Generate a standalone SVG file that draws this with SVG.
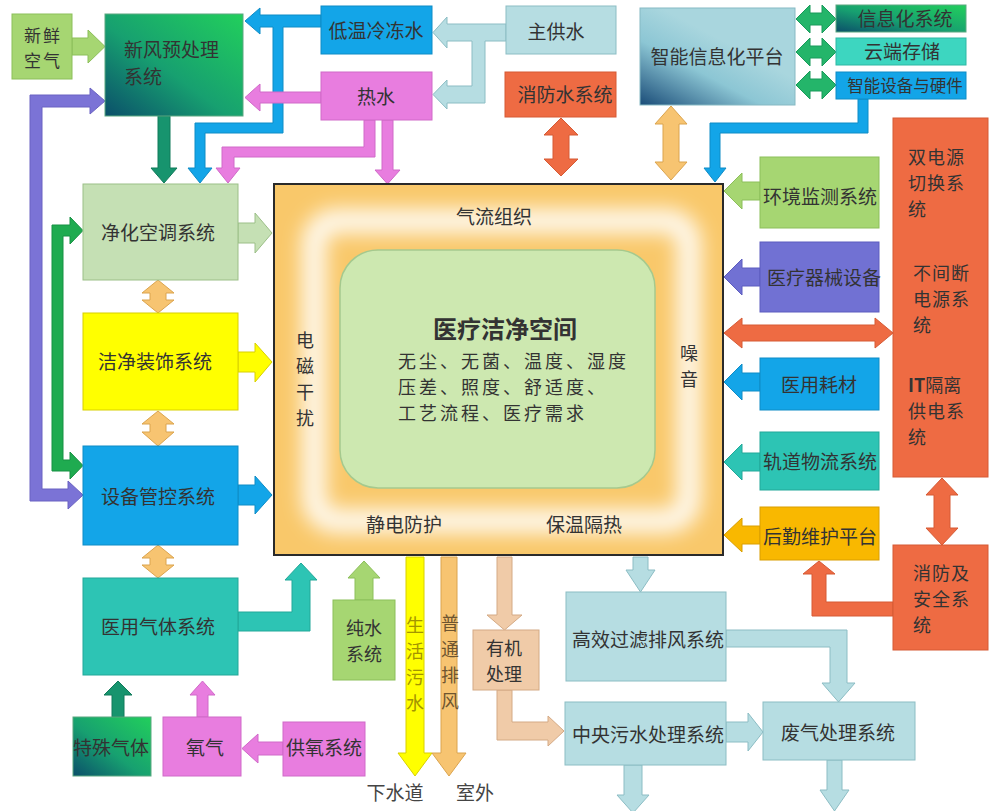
<svg xmlns="http://www.w3.org/2000/svg" width="989" height="811" viewBox="0 0 989 811">
<style>
text{font-family:"Noto Sans CJK SC","Noto Sans",sans-serif;fill:#333;font-size:19px}
.c{text-anchor:middle}
.s{font-size:18px}
.lg{fill:#a6d672;stroke:#8cbf5a}
.pu{fill:#7b73d6;stroke:#6a62c2}
.gr{fill:#1fab50;stroke:#179142}
.dg{fill:#17946e;stroke:#117a5a}
.bl{fill:#13a5e8;stroke:#0f8cc6}
.pk{fill:#e87ddf;stroke:#d06ac8}
.cy{fill:#b6dde2;stroke:#8cbdc4}
.or{fill:#ee6b43;stroke:#d65a35}
.lo{fill:#f7c471;stroke:#dba44e}
.ig{fill:#24b56a;stroke:#189a5a}
.ac{fill:#c5e0b4;stroke:#9cbf88}
.ye{fill:#ffff00;stroke:#d8d000}
.vi{fill:#7171d3;stroke:#5c5cbf}
.te{fill:#2dc4b4;stroke:#22a899}
.am{fill:#f9b800;stroke:#d99e00}
.tn{fill:#f0cba8;stroke:#d4aa85}
</style>
<defs>
<linearGradient id="gg" x1="1" y1="0" x2="0" y2="1">
<stop offset="0" stop-color="#22cf5c"/><stop offset="0.55" stop-color="#17a070"/><stop offset="1" stop-color="#0b4f6a"/>
</linearGradient>
<linearGradient id="gi" x1="0" y1="1" x2="0.55" y2="0.35">
<stop offset="0" stop-color="#1a4c78"/><stop offset="0.6" stop-color="#8cc6d4"/><stop offset="1" stop-color="#a9d6de"/>
</linearGradient>
<filter id="blur" x="-20%" y="-20%" width="140%" height="140%"><feGaussianBlur stdDeviation="10"/></filter>
</defs>
<rect width="989" height="811" fill="#ffffff"/>

<g id="connectors">
<polygon class="lg" points="72,38 88,38 88,30 105,46.5 88,63 88,55 72,55"/>
<polygon class="pu" points="30,501 30,95 90,95 90,88 105,101 90,114 90,107 42,107 42,489 68,489 68,481 83,495 68,509 68,501"/>
<polygon class="gr" points="52,471 52,225 70,225 70,217 83,230.5 70,244 70,236 63,236 63,460 70,460 70,452 83,465.5 70,479 70,471"/>
<polygon class="dg" points="158,116 170,116 170,168 177,168 164,183 151,168 158,168"/>
<polygon class="bl" points="321,15 260,15 260,8 245,21 260,34 260,27 273,27 273,123 195,123 195,168 188,168 200,183 212,168 205,168 205,133 283,133 283,27 321,27"/>
<polygon class="pk" points="321,92 260,92 260,84 245,97.5 260,111 260,103 321,103"/>
<polygon class="pk" points="375,120 375,157 234,157 234,168 240,168 228,183 216,168 222,168 222,147 364,147 364,120"/>
<polygon class="pk" points="382,120 393,120 393,170 400,170 387.5,184 375,170 382,170"/>
<polygon class="cy" points="506,24 447,24 447,17 433,32.5 447,48 447,41 472,41 472,86 447,86 447,80 433,94.5 447,109 447,103 485,103 485,41 506,41"/>
<polygon class="or" points="561,118 578,135 569,135 569,159 578,159 561,176 544,159 553,159 553,135 544,135"/>
<polygon class="lo" points="671,106 687,124 679,124 679,162 687,162 671,180 655,162 663,162 663,124 655,124"/>
<polygon class="ig" points="796,19 810,5 810,13 822,13 822,5 836,19 822,33 822,25 810,25 810,33"/>
<polygon class="ig" points="796,52 810,38 810,46 822,46 822,38 836,52 822,66 822,58 810,58 810,66"/>
<polygon class="ig" points="796,85 810,71 810,79 822,79 822,71 836,85 822,99 822,91 810,91 810,99"/>
<polygon class="bl" points="858,99 868,99 868,133 720,133 720,168 726,168 715,182 704,168 710,168 710,123 858,123"/>
<polygon class="ac" points="238,223 255,223 255,213 272,233 255,253 255,243 238,243"/>
<polygon class="ye" points="238,352 255,352 255,343 272,362 255,382 255,372 238,372"/>
<polygon class="bl" points="238,485 255,485 255,476 272,495 255,514 255,505 238,505"/>
<polygon class="lo" points="158,280 174,293 166,293 166,300 174,300 158,313 142,300 150,300 150,293 142,293"/>
<polygon class="lo" points="158,411 174,424 166,424 166,432 174,432 158,446 142,432 150,432 150,424 142,424"/>
<polygon class="lo" points="158,545 174,558 166,558 166,565 174,565 158,578 142,565 150,565 150,558 142,558"/>
<polygon class="lg" points="760,182 742,182 742,173 724,191 742,209 742,200 760,200"/>
<polygon class="vi" points="760,268 742,268 742,259 724,277 742,295 742,286 760,286"/>
<polygon class="or" points="724,333 742,318 742,325 875,325 875,318 893,333 875,348 875,341 742,341 742,348"/>
<polygon class="bl" points="760,373 742,373 742,364 724,382 742,400 742,391 760,391"/>
<polygon class="te" points="760,453 742,453 742,444 724,462 742,480 742,471 760,471"/>
<polygon class="am" points="760,526 742,526 742,518 724,535 742,552 742,544 760,544"/>
<polygon class="or" points="942,478 958,495 950,495 950,528 958,528 942,545 926,528 934,528 934,495 926,495"/>
<polygon class="or" points="893,602 893,616 812,616 812,574 803,574 819,561 835,574 826,574 826,602"/>
<polygon class="te" points="238,612 292,612 292,580 285,580 301,563 317,580 310,580 310,631 238,631"/>
<polygon class="lg" points="355,600 355,578 348,578 364,561 380,578 373,578 373,600"/>
<polygon class="ye" points="406,557 424,557 424,753 432,753 415,776 398,753 406,753"/>
<polygon class="lo" points="441,557 457,557 457,753 466,753 449,776 432,753 441,753"/>
<polygon class="tn" points="497,557 512,557 512,615 522,615 504.5,630 487,615 497,615"/>
<polygon class="tn" points="497,690 512,690 512,722 548,722 548,716 564,731 548,746 548,740 497,740"/>
<polygon class="cy" points="633,557 648,557 648,570 655,570 640.5,592 626,570 633,570"/>
<polygon class="cy" points="726,630 847,630 847,683 855,683 838.5,702 822,683 830,683 830,647 726,647"/>
<polygon class="cy" points="726,722 748,722 748,713 763,732 748,751 748,742 726,742"/>
<polygon class="cy" points="624,765 642,765 642,795 649,795 633,813 617,795 624,795"/>
<polygon class="cy" points="827,760 842,760 842,790 849,790 834.5,811 820,790 827,790"/>
<polygon class="dg" points="112,717 112,695 104,695 118,681 132,695 124,695 124,717"/>
<polygon class="pk" points="197,717 197,695 190,695 202.5,681 215,695 208,695 208,717"/>
<polygon class="pk" points="283,742 258,742 258,734 242,748.5 258,763 258,755 283,755"/>
</g>

<g id="center">
<rect x="274" y="184" width="449" height="371" fill="#f9c86a" stroke="#2a2a2a" stroke-width="2"/>
<rect x="314" y="221" width="375" height="300" rx="22" fill="none" stroke="#ffffff" stroke-opacity="0.9" stroke-width="24" filter="url(#blur)"/>
<rect x="340" y="250" width="315" height="238" rx="38" fill="#cde8b0" stroke="#a5c98e" stroke-width="1.5"/>
<text class="c" x="494" y="224">气流组织</text>
<text class="c s" x="305" y="347">电</text><text class="c s" x="305" y="373">磁</text><text class="c s" x="305" y="399">干</text><text class="c s" x="305" y="425">扰</text>
<text class="c s" x="689" y="360">噪</text><text class="c s" x="689" y="386">音</text>
<text class="c" x="404" y="532">静电防护</text>
<text class="c" x="584" y="532">保温隔热</text>
<text class="c" x="505" y="338" style="font-size:24px;font-weight:bold">医疗洁净空间</text>
<text x="398" y="368" style="font-size:18px;letter-spacing:3px">无尘、无菌、温度、湿度</text>
<text x="398" y="394" style="font-size:18px;letter-spacing:3px">压差、照度、舒适度、</text>
<text x="398" y="420" style="font-size:18px;letter-spacing:3px">工艺流程、医疗需求</text>
</g>

<g id="xinxian"><rect x="12" y="14" width="60" height="65" class="lg"/><text x="24" y="42" style="font-size:17px;letter-spacing:2px">新鲜</text><text x="24" y="67" style="font-size:17px;letter-spacing:2px">空气</text></g>
<g id="xinfeng"><rect x="105" y="14" width="138" height="102" fill="url(#gg)" stroke="#5aa880"/><text x="124" y="57">新风预处理</text><text x="124" y="84">系统</text></g>
<g id="diwen"><rect x="321" y="6" width="111" height="48" class="bl"/><text class="c" x="376" y="38">低温冷冻水</text></g>
<g id="reshui"><rect x="321" y="72" width="111" height="48" class="pk"/><text class="c" x="376" y="104">热水</text></g>
<g id="zhugongshui"><rect x="506" y="6" width="110" height="48" class="cy"/><text class="c" x="556" y="39">主供水</text></g>
<g id="xiaofangshui"><rect x="505" y="72" width="111" height="45" class="or"/><text class="c" x="565" y="102">消防水系统</text></g>
<g id="zhineng"><rect x="640" y="8" width="155" height="97" fill="url(#gi)" stroke="#86b9c3"/><text class="c" x="717" y="64">智能信息化平台</text></g>
<g id="xinxihua"><rect x="836" y="5" width="130" height="27" fill="url(#gg)" stroke="#5aa880"/><text class="c" x="905" y="26">信息化系统</text></g>
<g id="yunduan"><rect x="836" y="38" width="130" height="27" fill="#3dd6c0" stroke="#2fb8a4"/><text class="c" x="902" y="59">云端存储</text></g>
<g id="shebei"><rect x="836" y="72" width="130" height="27" class="bl"/><text class="c" x="905" y="92" style="font-size:16.5px">智能设备与硬件</text></g>
<g id="jinghua"><rect x="83" y="184" width="155" height="96" class="ac"/><text class="c" x="158" y="240">净化空调系统</text></g>
<g id="zhuangshi"><rect x="83" y="313" width="155" height="97" class="ye"/><text class="c" x="155" y="369">洁净装饰系统</text></g>
<g id="guankong"><rect x="83" y="446" width="155" height="99" class="bl"/><text class="c" x="158" y="504">设备管控系统</text></g>
<g id="yiyongqiti"><rect x="83" y="578" width="155" height="97" class="te"/><text class="c" x="158" y="634">医用气体系统</text></g>
<g id="teshu"><rect x="73" y="717" width="78" height="59" fill="url(#gg)" stroke="#5aa880"/><text class="c" x="111" y="755">特殊气体</text></g>
<g id="yangqi"><rect x="163" y="717" width="78" height="59" class="pk"/><text class="c" x="205" y="755">氧气</text></g>
<g id="gongyang"><rect x="283" y="722" width="82" height="54" class="pk"/><text class="c" x="324" y="755">供氧系统</text></g>
<g id="chunshui"><rect x="333" y="600" width="62" height="80" class="lg"/><text class="c s" x="364" y="635">纯水</text><text class="c s" x="364" y="661">系统</text></g>
<g id="shenghuo"><text class="c s" x="415" y="632" style="fill:#a39400">生</text><text class="c s" x="415" y="658" style="fill:#a39400">活</text><text class="c s" x="415" y="684" style="fill:#a39400">污</text><text class="c s" x="415" y="710" style="fill:#a39400">水</text><text class="c" x="395" y="800" style="fill:#444">下水道</text></g>
<g id="putong"><text class="c s" x="450" y="630" style="fill:#6e5530">普</text><text class="c s" x="450" y="656" style="fill:#6e5530">通</text><text class="c s" x="450" y="682" style="fill:#6e5530">排</text><text class="c s" x="450" y="708" style="fill:#6e5530">风</text><text class="c" x="475" y="800" style="fill:#444">室外</text></g>
<g id="youji"><rect x="473" y="630" width="66" height="60" class="tn"/><text class="c s" x="504" y="655">有机</text><text class="c s" x="504" y="681">处理</text></g>
<g id="gaoxiao"><rect x="566" y="592" width="160" height="89" class="cy"/><text class="c" x="648" y="647">高效过滤排风系统</text></g>
<g id="zhongyang"><rect x="565" y="702" width="161" height="63" class="cy"/><text class="c" x="648" y="742">中央污水处理系统</text></g>
<g id="feiqi"><rect x="763" y="702" width="152" height="58" class="cy"/><text class="c" x="838" y="740">废气处理系统</text></g>
<g id="huanjing"><rect x="760" y="157" width="119" height="71" class="lg"/><text class="c" x="820" y="204">环境监测系统</text></g>
<g id="qixie"><rect x="760" y="242" width="119" height="70" class="vi"/><text class="c" x="824" y="285">医疗器械设备</text></g>
<g id="haocai"><rect x="760" y="358" width="119" height="52" class="bl"/><text class="c" x="819" y="392">医用耗材</text></g>
<g id="guidao"><rect x="760" y="432" width="119" height="58" class="te"/><text class="c" x="820" y="469">轨道物流系统</text></g>
<g id="houqin"><rect x="760" y="507" width="119" height="53" class="am"/><text class="c" x="820" y="544">后勤维护平台</text></g>
<g id="dianyuan"><rect x="893" y="118" width="95" height="359" class="or"/>
<text class="s" x="908" y="164" style="letter-spacing:1px">双电源</text><text class="s" x="908" y="190" style="letter-spacing:1px">切换系</text><text class="s" x="908" y="216">统</text>
<text class="s" x="913" y="280" style="letter-spacing:1px">不间断</text><text class="s" x="913" y="306" style="letter-spacing:1px">电源系</text><text class="s" x="913" y="332">统</text>
<text class="s" x="908" y="392"><tspan font-weight="bold">IT</tspan>隔离</text><text class="s" x="908" y="418" style="letter-spacing:1px">供电系</text><text class="s" x="908" y="444">统</text></g>
<g id="xiaofang"><rect x="893" y="545" width="95" height="105" class="or"/><text class="s" x="913" y="580" style="letter-spacing:1px">消防及</text><text class="s" x="913" y="606" style="letter-spacing:1px">安全系</text><text class="s" x="913" y="632">统</text></g>
</svg>
